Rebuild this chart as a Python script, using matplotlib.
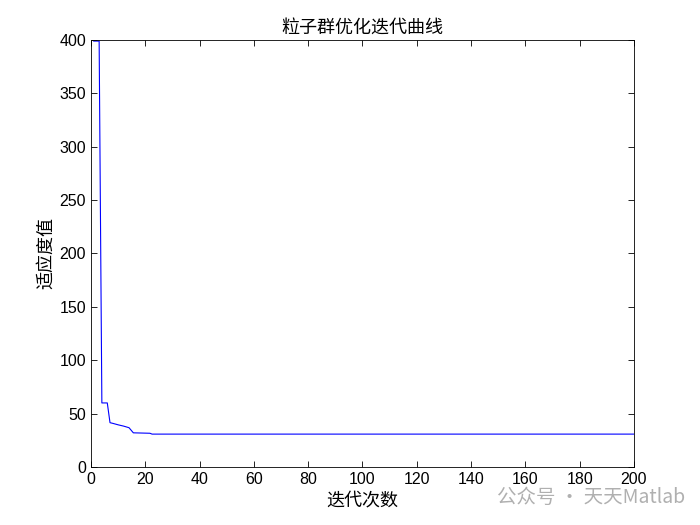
import matplotlib
matplotlib.use("Agg")
import matplotlib.pyplot as plt

plt.rcParams['font.family'] = ['Liberation Sans', 'Noto Sans CJK SC', 'DejaVu Sans']

# breakpoints of the convergence curve (iteration, best fitness)
iters = [1, 3, 4, 6, 7, 8, 10, 12, 14, 15.6, 21.7, 22.5, 200]
fitness = [399, 399, 60, 60, 41.5, 40.9, 39.5, 38.3, 36.8, 32, 31.6, 30.8, 30.8]

xticks = list(range(0, 201, 20))
yticks = list(range(0, 401, 50))

fig = plt.figure(figsize=(7, 5.25), dpi=100)
ax = fig.add_axes([0.13, 0.1105, 0.7757, 0.8133])
ax.plot(iters, fitness, color='#0000ff', linewidth=0.8)

ax.set_xlim(0, 200)
ax.set_ylim(0, 400)
ax.set_xticks(xticks)
ax.set_yticks(yticks)
ax.tick_params(direction='in', top=True, right=True, labelsize=11.5, length=4, width=0.6)
for s in ax.spines.values():
    s.set_linewidth(0.6)

cjk = ['Noto Sans CJK SC', 'DejaVu Sans']
ax.set_title('粒子群优化迭代曲线', family=cjk, fontsize=13, pad=5)
ax.set_xlabel('迭代次数', family=cjk, fontsize=13, labelpad=3)
ax.set_ylabel('适应度值', family=cjk, fontsize=13, labelpad=3)

# watermark
fig.text(0.71, 0.052, '公众号 · 天天Matlab', family=cjk, fontsize=14,
         color='#b0b0b0', va='center', ha='left')

fig.savefig('out.png', dpi=100)
